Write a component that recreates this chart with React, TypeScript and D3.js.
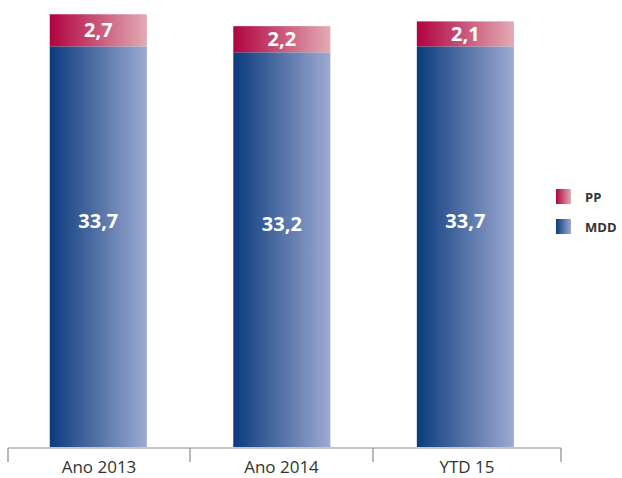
import React, { useEffect, useRef } from "react";
import * as d3 from "d3";

const categories = ["Ano 2013", "Ano 2014", "YTD 15"];
const mddValues = [33.7, 33.2, 33.7];
const ppValues = [2.7, 2.2, 2.1];
const legendLabels = ["PP", "MDD"];

const App = () => {
  const svgRef = useRef<SVGSVGElement>(null);

  useEffect(() => {
    const width = 622;
    const height = 478;
    const font = "'Open Sans', 'Noto Sans', sans-serif";

    const svg = d3.select(svgRef.current);
    svg.selectAll("*").remove();
    svg.attr("width", width).attr("height", height);

    const defs = svg.append("defs");
    const grad = (id: string, from: string, to: string) => {
      const g = defs
        .append("linearGradient")
        .attr("id", id)
        .attr("x1", "0%")
        .attr("x2", "100%")
        .attr("y1", "0%")
        .attr("y2", "0%");
      g.append("stop").attr("offset", "0%").attr("stop-color", from);
      g.append("stop").attr("offset", "100%").attr("stop-color", to);
    };
    grad("blueGrad", "#0a3b7d", "#9eaad1");
    grad("redGrad", "#b00340", "#e3abb4");

    const x = d3
      .scaleBand()
      .domain(categories)
      .range([8, 561])
      .paddingInner(0.471)
      .paddingOuter(0.242)
      .align(0.47);

    const y = d3.scaleLinear().domain([0, 37.6]).range([447, 0]);

    const data = categories.map((c, i) => ({
      cat: c,
      mdd: mddValues[i],
      pp: ppValues[i],
    }));

    // MDD bars
    svg
      .selectAll(".mdd")
      .data(data)
      .enter()
      .append("rect")
      .attr("x", (d) => x(d.cat)!)
      .attr("width", x.bandwidth())
      .attr("y", (d) => y(d.mdd))
      .attr("height", (d) => y(0) - y(d.mdd))
      .attr("fill", "url(#blueGrad)");

    // PP bars on top
    svg
      .selectAll(".pp")
      .data(data)
      .enter()
      .append("rect")
      .attr("x", (d) => x(d.cat)!)
      .attr("width", x.bandwidth())
      .attr("y", (d) => y(d.mdd + d.pp))
      .attr("height", (d) => y(d.mdd) - y(d.mdd + d.pp))
      .attr("fill", "url(#redGrad)");

    const fmt = (v: number) => v.toFixed(1).replace(".", ",");

    svg
      .selectAll(".mddLabel")
      .data(data)
      .enter()
      .append("text")
      .attr("x", (d) => x(d.cat)! + x.bandwidth() / 2)
      .attr("y", (d) => y(d.mdd * 0.565))
      .attr("dy", "0.35em")
      .attr("text-anchor", "middle")
      .attr("fill", "white")
      .style("font-family", font)
      .style("font-weight", "bold")
      .style("font-size", "20px")
      .text((d) => fmt(d.mdd));

    svg
      .selectAll(".ppLabel")
      .data(data)
      .enter()
      .append("text")
      .attr("x", (d) => x(d.cat)! + x.bandwidth() / 2)
      .attr("y", (d) => y(d.mdd + d.pp / 2))
      .attr("dy", "0.35em")
      .attr("text-anchor", "middle")
      .attr("fill", "white")
      .style("font-family", font)
      .style("font-weight", "bold")
      .style("font-size", "20px")
      .text((d) => fmt(d.pp));

    // axis
    const axis = svg.append("g");
    axis
      .append("line")
      .attr("x1", 8)
      .attr("x2", 561)
      .attr("y1", y(0) + 1)
      .attr("y2", y(0) + 1)
      .attr("stroke", "#8a8a8a")
      .attr("stroke-width", 1.2);

    const edges = [8, 190, 373, 561];
    axis
      .selectAll(".tick")
      .data(edges)
      .enter()
      .append("line")
      .attr("x1", (d) => d)
      .attr("x2", (d) => d)
      .attr("y1", y(0) + 1)
      .attr("y2", y(0) + 15)
      .attr("stroke", "#8a8a8a")
      .attr("stroke-width", 1.2);

    axis
      .selectAll(".catLabel")
      .data(categories)
      .enter()
      .append("text")
      .attr("x", (d, i) => (edges[i] + edges[i + 1]) / 2)
      .attr("y", y(0) + 20)
      .attr("dy", "0.35em")
      .attr("text-anchor", "middle")
      .attr("fill", "#333")
      .style("font-family", font)
      .style("font-size", "17px")
      .text((d) => d);

    // legend
    const legend = svg
      .selectAll(".legend")
      .data(legendLabels)
      .enter()
      .append("g")
      .attr("transform", (d, i) => `translate(556,${189 + i * 30})`);

    legend
      .append("rect")
      .attr("width", 15)
      .attr("height", 15)
      .attr("fill", (d, i) => (i === 0 ? "url(#redGrad)" : "url(#blueGrad)"));

    legend
      .append("text")
      .attr("x", 29)
      .attr("y", 8)
      .attr("dy", "0.35em")
      .attr("fill", "#333")
      .style("font-family", font)
      .style("font-weight", "bold")
      .style("font-size", "13px")
      .text((d) => d);
  }, []);

  return (
    <svg
      ref={svgRef}
      style={{ position: "absolute", left: 0, top: 0, display: "block" }}
    ></svg>
  );
};

export default App;
